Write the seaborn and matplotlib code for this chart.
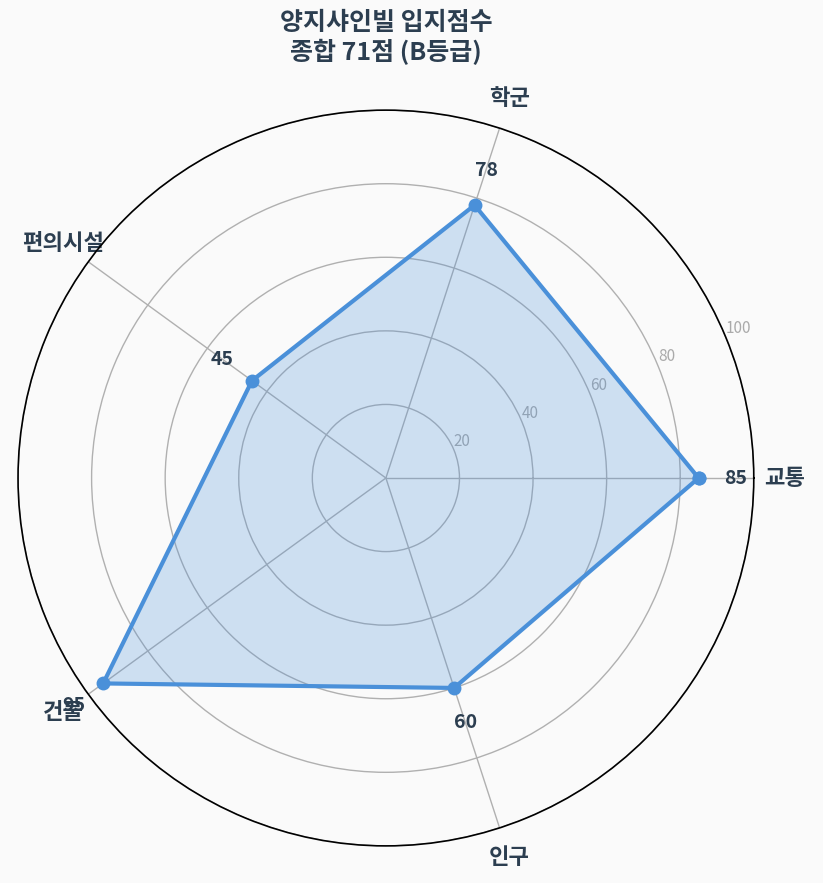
import numpy as np
import pandas as pd
import seaborn as sns
import matplotlib.pyplot as plt

# radar data
categories = ['교통', '학군', '편의시설', '건물', '인구']
scores = [85, 78, 45, 95, 60]
ticks = [20, 40, 60, 80, 100]
title = '양지샤인빌 입지점수\n종합 71점 (B등급)'

sns.set_style('white')
plt.rcParams['font.family'] = ['Noto Sans CJK KR', 'DejaVu Sans']

line_col = '#4a90d9'
text_col = '#2c3e50'

angles = np.linspace(0, 2 * np.pi, len(categories), endpoint=False)
# close the polygon by repeating the first point
df = pd.DataFrame({'angle': np.append(angles, angles[0] + 2 * np.pi),
                   'score': scores + scores[:1]})

fig = plt.figure(figsize=(8.23, 8.83), dpi=100, facecolor='#fafafa')
ax = fig.add_axes([0.0219, 0.0419, 0.894, 0.8335], projection='polar')
ax.set_facecolor('#fafafa')

ax.fill(df['angle'], df['score'], color=line_col, alpha=0.25, zorder=2)
sns.lineplot(data=df, x='angle', y='score', sort=False, estimator=None, ax=ax,
             color=line_col, linewidth=3, marker='o', markersize=10,
             markeredgewidth=0, zorder=3)

ax.set_ylim(0, 100)
ax.set_yticks(ticks)
ax.set_yticklabels([str(t) for t in ticks], color='#aaaaaa', fontsize=11)
ax.set_rlabel_position(22.5)
ax.set_xticks(angles)
ax.set_xticklabels(categories, fontsize=16, fontweight='bold', color=text_col)
ax.tick_params(axis='x', pad=12)
ax.grid(color='#b0b0b0', linewidth=1)
ax.spines['polar'].set_color('black')
ax.spines['polar'].set_linewidth(1.2)
ax.set_xlabel('')
ax.set_ylabel('')

for a, s in zip(angles, scores):
    ax.text(a, s + 10, str(s), ha='center', va='center', fontsize=14,
            fontweight='bold', color=text_col, zorder=4)

fig.text(0.469, 0.957, title, ha='center', va='center', fontsize=18,
         fontweight='bold', color=text_col, linespacing=1.15)

fig.savefig('out.png', dpi=100, facecolor=fig.get_facecolor())
